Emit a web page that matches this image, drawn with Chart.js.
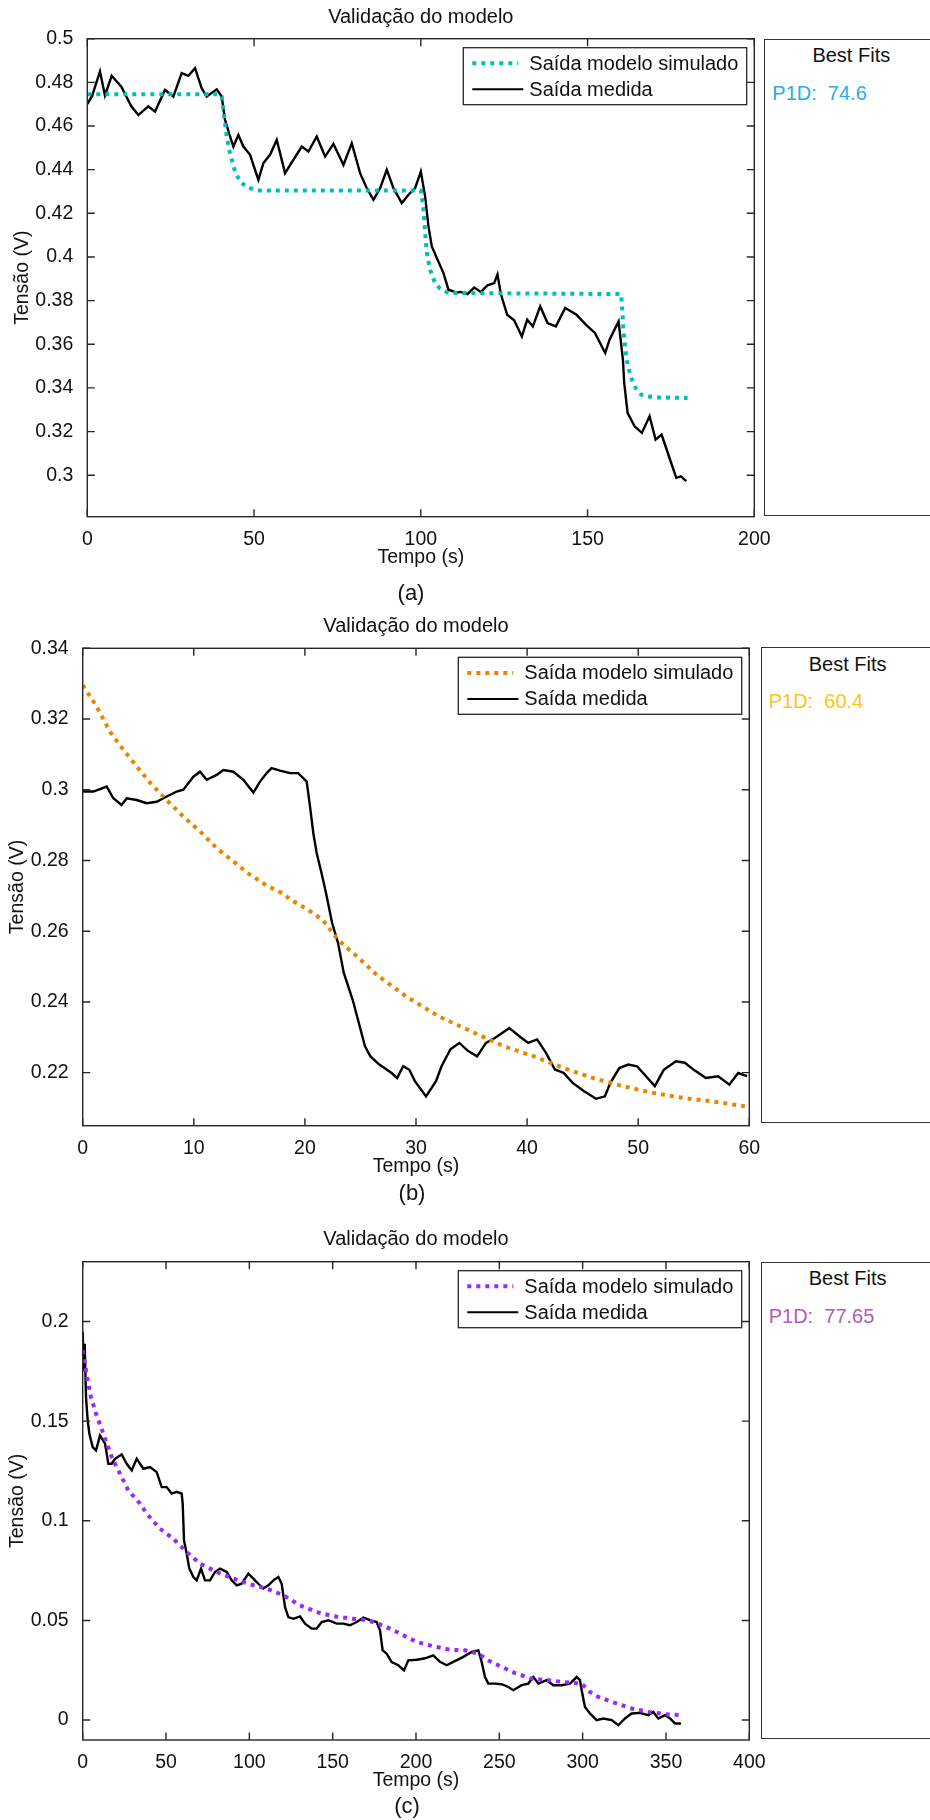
<!DOCTYPE html>
<html>
<head>
<meta charset="utf-8">
<script src="https://cdn.jsdelivr.net/npm/chart.js@4.4.1/dist/chart.umd.min.js"></script>
<style>
  body { margin: 0; background: #fff; width: 930px; height: 1820px; position: relative; overflow: hidden;
         font-family: "Liberation Sans", Arial, sans-serif; color: #111; }
  canvas { position: absolute; left: 0; }
  .fits { position: absolute; border: 1.5px solid #333; box-sizing: border-box; background: #fff; }
  .fits .head { position: absolute; left: 0; right: 0; text-align: center; font-size: 20px; line-height: 24px; }
  .fits .val { position: absolute; left: 7px; font-size: 20px; line-height: 24px; white-space: pre; }
  .letra { position: absolute; font-size: 22px; line-height: 26px; transform: translate(-50%, -50%); }
</style>
</head>
<body>
<canvas id="graficoA" width="930"></canvas>
<canvas id="graficoB" width="930"></canvas>
<canvas id="graficoC" width="930"></canvas>

<script>
// legenda e textos
const legendLabels = ['Saída modelo simulado', 'Saída medida'];
const tituloGrafico = 'Validação do modelo';
const rotuloX = 'Tempo (s)';
const rotuloY = 'Tensão (V)';

// ---- (a) ----
const tempoMedA = [0, 1.5, 3.8, 5.3, 7.3, 10.2, 13.2, 15.3, 18.3, 20.3, 23.3, 25.8, 28.3, 30.3, 32.3, 34.3, 35.8, 38.8,
  40.3, 41.3, 42.8, 43.8, 45.3, 46.8, 48.8, 51.3, 52.8, 54.8, 56.8, 59.3, 61.8, 64.3, 66.3, 68.8, 71.3, 73.8, 76.8,
  79.3, 81.8, 83.8, 85.8, 87.8, 89.8, 91.8, 94.3, 96.3, 98.3, 100, 101.3, 102.3, 103.3, 104.8, 106.8, 108.3, 110.8,
  112, 114, 116, 118, 120, 122, 123, 124, 125.9, 128, 130.3, 131.9, 133.6, 135.8, 138, 140.5, 143.3, 146.7, 149.5,
  152.2, 155.3, 156.6, 159.3, 160.6, 161, 162, 164.1, 166.3, 168.6, 170.4, 172.2, 174.4, 176.6, 178, 179.6];
const medidaA = [0.470, 0.474, 0.485, 0.474, 0.483, 0.478, 0.469, 0.465, 0.469, 0.4666, 0.4765, 0.4735, 0.4842, 0.483,
  0.4865, 0.4773, 0.4735, 0.4768, 0.4735, 0.4628, 0.4552, 0.4506, 0.4559, 0.4506, 0.4468, 0.4353, 0.443, 0.4468,
  0.4536, 0.4384, 0.4445, 0.4506, 0.4483, 0.4552, 0.446, 0.4518, 0.4422, 0.4521, 0.4384, 0.4315, 0.4262, 0.4315,
  0.4399, 0.4315, 0.4247, 0.4285, 0.4315, 0.4391, 0.4277, 0.414, 0.4048, 0.3995, 0.3926, 0.385, 0.3837, 0.384, 0.383,
  0.386, 0.384, 0.387, 0.388, 0.392, 0.383, 0.3735, 0.371, 0.3636, 0.3713, 0.3682, 0.3774, 0.3697, 0.3682, 0.3766,
  0.3735, 0.369, 0.3652, 0.356, 0.3621, 0.3705, 0.353, 0.3423, 0.3286, 0.3224, 0.3194, 0.327, 0.3163, 0.3186, 0.3087,
  0.2988, 0.2995, 0.2973];
const tempoSimA = [0, 39.5, 40.3, 41.3, 41.8, 42.8, 44.3, 45.8, 47.8, 50.8, 100, 100.3, 100.8, 101.3, 101.8, 102.8,
  104.3, 105.8, 108.3, 160, 160.3, 160.8, 161.7, 162.9, 164.4, 166.1, 169.7, 180];
const simuladoA = [0.4745, 0.4745, 0.4735, 0.4613, 0.455, 0.4475, 0.4391, 0.4346, 0.432, 0.4305, 0.4305, 0.428, 0.4216,
  0.4109, 0.4019, 0.3941, 0.388, 0.3855, 0.3835, 0.383, 0.379, 0.3652, 0.353, 0.3453, 0.34, 0.3369, 0.3357, 0.3354];
const xTicksA = [0, 50, 100, 150, 200];
const yTicksA = [0.3, 0.32, 0.34, 0.36, 0.38, 0.4, 0.42, 0.44, 0.46, 0.48, 0.5];

// ---- (b) ----
const tempoMedB = [0, 0.96, 2.16, 2.76, 3.5, 3.96, 4.86, 5.76, 6.66, 7.56, 8.46, 9.06, 9.96, 10.56, 11.16, 12.06, 12.66,
  13.56, 14.46, 15.36, 15.96, 16.56, 17.0, 17.76, 18.66, 19.4, 20.16, 20.46, 20.76, 21.06, 21.5, 21.9, 22.45, 22.98,
  23.5, 24.3, 24.85, 25.4, 25.9, 26.7, 27.8, 28.3, 28.85, 29.4, 29.9, 30.9, 31.8, 32.3, 33.1, 33.9, 34.7, 35.5, 36.3,
  37.1, 38.4, 39.3, 40.1, 40.9, 41.7, 42.5, 43.3, 44.1, 45.1, 46.2, 47.0, 47.5, 48.3, 49.1, 49.9, 50.7, 51.5, 52.3,
  53.4, 54.2, 55.0, 56.1, 57.2, 58.2, 59.0, 59.8];
const medidaB = [0.2995, 0.2995, 0.3009, 0.2976, 0.2957, 0.2976, 0.2971, 0.2962, 0.2966, 0.2981, 0.2995, 0.300, 0.3037,
  0.3051, 0.3028, 0.3042, 0.3056, 0.3051, 0.3028, 0.2992, 0.3023, 0.3047, 0.3061, 0.3054, 0.3047, 0.3047, 0.3023,
  0.2953, 0.2877, 0.2821, 0.2764, 0.2708, 0.2623, 0.2567, 0.2482, 0.2406, 0.2341, 0.2275, 0.2246, 0.2223, 0.2199,
  0.2185, 0.2218, 0.2208, 0.2176, 0.2133, 0.2176, 0.2218, 0.2266, 0.2284, 0.2261, 0.2246, 0.2284, 0.2298, 0.2326,
  0.2303, 0.2284, 0.2294, 0.2256, 0.2209, 0.2199, 0.2171, 0.2148, 0.2126, 0.2133, 0.2171, 0.2213, 0.2223, 0.2218,
  0.219, 0.2162, 0.2208, 0.2232, 0.2228, 0.2208, 0.2185, 0.219, 0.2166, 0.2199, 0.219];
const tempoSimB = [0, 1.26, 2.46, 3.66, 4.86, 6.06, 7.56, 9.06, 10.56, 12.06, 13.56, 15.06, 16.56, 18.06, 18.7, 20.2,
  21.6, 22.98, 24.85, 26.45, 29.1, 32.06, 35.3, 37.9, 40.6, 43.3, 45.9, 48.6, 51.3, 53.95, 56.6, 59.6];
const simuladoB = [0.3296, 0.3235, 0.3164, 0.3113, 0.3066, 0.302, 0.2971, 0.2924, 0.2882, 0.2835, 0.2797, 0.276, 0.2729,
  0.2706, 0.2689, 0.2662, 0.2632, 0.2576, 0.2524, 0.2477, 0.2416, 0.2359, 0.2312, 0.2275, 0.2246, 0.2213, 0.2185,
  0.2162, 0.2143, 0.2129, 0.2119, 0.2105];
const xTicksB = [0, 10, 20, 30, 40, 50, 60];
const yTicksB = [0.22, 0.24, 0.26, 0.28, 0.3, 0.32, 0.34];

// ---- (c) ----
const tempoMedC = [0, 0.6, 1.2, 2, 3, 4, 6, 8, 10.4, 13.4, 15.4, 17.4, 19.4, 23.4, 26.4, 29.4, 32.4, 36.4, 40.4, 44.4,
  47.4, 50.4, 53.4, 56.4, 59.4, 60, 60.8, 62.4, 64, 66.4, 68.4, 71, 73.4, 76.4, 79.4, 82.4, 86.4, 89.4, 92.4, 95.4,
  99.4, 102.4, 105.4, 108.4, 111.4, 114.4, 117.4, 119.4, 121.4, 123.4, 126.4, 130.4, 133.4, 137.4, 140.4, 143.4,
  147.4, 152.4, 156.4, 160.4, 164.4, 168.4, 172.4, 176.4, 178.4, 180, 182.4, 185.4, 189.4, 192.8, 195.4, 200.4,
  205.4, 210.4, 214.4, 218.4, 222.4, 228.4, 233.4, 237.4, 239.4, 241.4, 243.4, 247.4, 251.4, 255.4, 258.4, 263.4,
  267.4, 270.4, 273.4, 278.4, 282.4, 287.4, 292.4, 296.4, 298.4, 299.4, 301.4, 304.4, 308.4, 312.4, 317.4, 321.4,
  325.4, 329.4, 334.4, 339.4, 342.4, 345.4, 349.4, 352.4, 355.4, 359];
const medidaC = [0.195, 0.175, 0.1888, 0.162, 0.1503, 0.1437, 0.137, 0.1353, 0.1428, 0.1387, 0.1286, 0.1286, 0.1311,
  0.1333, 0.1286, 0.1253, 0.1311, 0.1261, 0.127, 0.1244, 0.1169, 0.1169, 0.1136, 0.1145, 0.1136, 0.1086, 0.0902,
  0.0835, 0.076, 0.0718, 0.0701, 0.076, 0.0701, 0.0701, 0.0743, 0.076, 0.0743, 0.0701, 0.0676, 0.0684, 0.0735, 0.071,
  0.0684, 0.066, 0.0676, 0.0701, 0.0718, 0.0684, 0.0567, 0.0517, 0.0508, 0.052, 0.0484, 0.0459, 0.0459, 0.0492,
  0.0501, 0.0484, 0.0484, 0.0476, 0.0492, 0.0514, 0.0501, 0.0492, 0.045, 0.035, 0.0333, 0.0291, 0.0275, 0.025, 0.030,
  0.0303, 0.031, 0.0325, 0.0292, 0.0275, 0.0292, 0.0317, 0.0342, 0.035, 0.0292, 0.0216, 0.0183, 0.0183, 0.018,
  0.0166, 0.015, 0.0175, 0.0183, 0.0216, 0.0183, 0.02, 0.0175, 0.0175, 0.0183, 0.0216, 0.02, 0.015, 0.0066, 0.0033,
  0.0, 0.0008, 0.0, -0.0026, 0.0008, 0.0033, 0.0036, 0.0025, 0.0041, 0.0008, 0.0025, 0.0008, -0.0017, -0.0017];
const tempoSimC = [0, 3, 5, 8, 12.4, 17.4, 22.4, 27.4, 34.4, 38.4, 46.4, 54.4, 62.4, 70.4, 80.4, 90.4, 100.4, 110.4,
  120.4, 130.4, 140.4, 150.4, 160.4, 170.4, 180.4, 190.4, 200.4, 210.4, 220.4, 229.4, 237.4, 243.4, 249.4, 259.4,
  269.4, 279.4, 289.4, 299.4, 304.4, 309.4, 319.4, 329.4, 339.4, 349.4, 358.4];
const simuladoC = [0.1855, 0.1704, 0.162, 0.1537, 0.1437, 0.132, 0.1236, 0.1152, 0.1086, 0.1036, 0.096, 0.091, 0.0843,
  0.0785, 0.0743, 0.071, 0.0681, 0.066, 0.0626, 0.0576, 0.0542, 0.0521, 0.051, 0.0501, 0.0475, 0.0434, 0.0392,
  0.037, 0.0353, 0.035, 0.0333, 0.030, 0.0275, 0.0236, 0.0208, 0.020, 0.019, 0.0183, 0.0141, 0.0116, 0.0086, 0.0058,
  0.0041, 0.003, 0.0025];
const xTicksC = [0, 50, 100, 150, 200, 250, 300, 350, 400];
const yTicksC = [0, 0.05, 0.1, 0.15, 0.2];

// melhores ajustes
const bestFits = ['P1D:  74.6', 'P1D:  60.4', 'P1D:  77.65'];

Chart.defaults.font.family = '"Liberation Sans", Arial, sans-serif';
Chart.defaults.color = '#111';

const pares = (ts, vs) => ts.map((t, i) => ({ x: t, y: vs[i] }));

// caixa do grafico com marcas para dentro (estilo matlab)
const molduraPlugin = {
  id: 'moldura',
  afterDatasetsDraw(chart) {
    const { ctx, chartArea: a, scales: { x, y } } = chart;
    const tl = 7.5;
    ctx.save();
    ctx.strokeStyle = '#262626';
    ctx.lineWidth = 1.4;
    ctx.strokeRect(a.left, a.top, a.right - a.left, a.bottom - a.top);
    ctx.beginPath();
    x.ticks.forEach(t => {
      const px = x.getPixelForValue(t.value);
      ctx.moveTo(px, a.bottom); ctx.lineTo(px, a.bottom - tl);
      ctx.moveTo(px, a.top); ctx.lineTo(px, a.top + tl);
    });
    y.ticks.forEach(t => {
      const py = y.getPixelForValue(t.value);
      ctx.moveTo(a.left, py); ctx.lineTo(a.left + tl, py);
      ctx.moveTo(a.right, py); ctx.lineTo(a.right - tl, py);
    });
    ctx.stroke();
    ctx.restore();
  }
};

// legenda com borda no canto superior direito
const legendaPlugin = {
  id: 'legendaCaixa',
  afterDraw(chart) {
    const { ctx, chartArea: a } = chart;
    const w = 283.4, h = 57;
    const left = a.right - 7.6 - w, top = a.top + 9;
    ctx.save();
    ctx.fillStyle = '#fff';
    ctx.fillRect(left, top, w, h);
    ctx.strokeStyle = '#262626';
    ctx.lineWidth = 1.3;
    ctx.strokeRect(left, top, w, h);
    chart.data.datasets.forEach((ds, i) => {
      const yy = top + 15.6 + i * 26;
      ctx.beginPath();
      ctx.strokeStyle = ds.borderColor;
      ctx.lineWidth = ds.borderDash ? ds.borderWidth : 2;
      ctx.setLineDash(ds.borderDash || []);
      ctx.moveTo(left + 9, yy);
      ctx.lineTo(left + (ds.borderDash ? 55 : 60), yy);
      ctx.stroke();
      ctx.setLineDash([]);
      ctx.fillStyle = '#111';
      ctx.font = '20px "Liberation Sans", Arial, sans-serif';
      ctx.textBaseline = 'middle';
      ctx.fillText(ds.label, left + 66, yy + 1);
    });
    ctx.restore();
  }
};

function montarPainel(cfg) {
  const el = document.getElementById(cfg.id);
  const a = cfg.area;
  const h = Math.round(a.b + 57 - cfg.top);
  el.height = h;
  el.style.top = cfg.top + 'px';
  const xAltura = cfg.top + h - a.b;
  const tituloTopo = cfg.tituloY - cfg.top - 12;
  const tituloBase = a.t - cfg.top - 24 - tituloTopo;

  new Chart(el.getContext('2d'), {
    type: 'line',
    data: {
      datasets: [{
        label: legendLabels[0],
        data: pares(cfg.tSim, cfg.vSim),
        borderColor: cfg.cor,
        borderWidth: 4,
        borderDash: [4, 5],
        borderCapStyle: 'butt',
        pointRadius: 0,
        tension: 0,
        fill: false
      }, {
        label: legendLabels[1],
        data: pares(cfg.tMed, cfg.vMed),
        borderColor: '#000',
        borderWidth: 2.4,
        pointRadius: 0,
        tension: 0,
        fill: false
      }]
    },
    options: {
      responsive: false,
      animation: false,
      events: [],
      layout: { padding: { left: 0, right: 930 - a.r, top: 0, bottom: 0 } },
      plugins: {
        legend: { display: false },
        tooltip: { enabled: false },
        title: {
          display: true,
          text: tituloGrafico,
          fullSize: false,
          color: '#111',
          font: { size: 20, weight: 'normal', lineHeight: 1.2 },
          padding: { top: tituloTopo, bottom: tituloBase }
        }
      },
      scales: {
        x: {
          type: 'linear',
          min: 0,
          max: cfg.xTicks[cfg.xTicks.length - 1],
          grid: { display: false },
          border: { display: false },
          afterBuildTicks: s => { s.ticks = cfg.xTicks.map(v => ({ value: v })); },
          afterFit: s => { s.height = xAltura; },
          ticks: { autoSkip: false, maxRotation: 0, padding: 3, color: '#111',
                   font: { size: 19.5, lineHeight: 1.2 }, callback: v => String(v) },
          title: { display: true, text: rotuloX, color: '#111',
                   font: { size: 19.5, lineHeight: 1.2 },
                   padding: { top: 0, bottom: xAltura - 40.5 - 11.7 } }
        },
        y: {
          type: 'linear',
          min: cfg.yMin,
          max: cfg.yMax,
          grid: { display: false },
          border: { display: false },
          afterBuildTicks: s => { s.ticks = cfg.yTicks.map(v => ({ value: v })); },
          afterFit: s => { s.width = a.l; },
          ticks: { autoSkip: false, padding: 6, color: '#111',
                   font: { size: 19.5, lineHeight: 1.2 }, callback: v => String(+v.toFixed(3)) },
          title: { display: true, text: rotuloY, color: '#111',
                   font: { size: 19.5, lineHeight: 1.2 },
                   padding: { top: a.l - 65 - 11.7, bottom: 0 } }
        }
      }
    },
    plugins: [molduraPlugin, legendaPlugin]
  });

  // quadro "Best Fits"
  const bx = cfg.caixa;
  const box = document.createElement('div');
  box.className = 'fits';
  box.style.left = bx.l + 'px';
  box.style.top = bx.t + 'px';
  box.style.width = '174px';
  box.style.height = (bx.b - bx.t) + 'px';
  box.innerHTML = '<div class="head" style="top:' + (15.6 - 12) + 'px">Best Fits</div>' +
    '<div class="val" style="top:' + (53 - 12) + 'px;color:' + cfg.corFit + '">' + cfg.fit + '</div>';
  document.body.appendChild(box);

  const letra = document.createElement('div');
  letra.className = 'letra';
  letra.style.left = cfg.letra.x + 'px';
  letra.style.top = cfg.letra.y + 'px';
  letra.textContent = cfg.letra.txt;
  document.body.appendChild(letra);
}

montarPainel({
  id: 'graficoA', top: 0, tituloY: 17,
  area: { l: 87.3, t: 38.7, r: 754.3, b: 516.7 },
  yMin: 0.281, yMax: 0.5, xTicks: xTicksA, yTicks: yTicksA,
  tMed: tempoMedA, vMed: medidaA, tSim: tempoSimA, vSim: simuladoA,
  cor: 'rgb(0,190,190)', corFit: 'rgb(40,172,232)', fit: bestFits[0],
  caixa: { l: 764.3, t: 38.7, b: 515.7 },
  letra: { txt: '(a)', x: 411, y: 593 }
});

montarPainel({
  id: 'graficoB', top: 600, tituloY: 626.7,
  area: { l: 82.7, t: 648.3, r: 749.3, b: 1125.7 },
  yMin: 0.205, yMax: 0.34, xTicks: xTicksB, yTicks: yTicksB,
  tMed: tempoMedB, vMed: medidaB, tSim: tempoSimB, vSim: simuladoB,
  cor: 'rgb(230,135,0)', corFit: 'rgb(255,196,20)', fit: bestFits[1],
  caixa: { l: 760.7, t: 647, b: 1122.7 },
  letra: { txt: '(b)', x: 412, y: 1193 }
});

montarPainel({
  id: 'graficoC', top: 1215, tituloY: 1239.5,
  area: { l: 82.7, t: 1261.7, r: 749.3, b: 1740 },
  yMin: -0.01, yMax: 0.23, xTicks: xTicksC, yTicks: yTicksC,
  tMed: tempoMedC, vMed: medidaC, tSim: tempoSimC, vSim: simuladoC,
  cor: 'rgb(155,40,255)', corFit: 'rgb(180,90,190)', fit: bestFits[2],
  caixa: { l: 760.7, t: 1261.7, b: 1739 },
  letra: { txt: '(c)', x: 407, y: 1806 }
});
</script>
</body>
</html>
